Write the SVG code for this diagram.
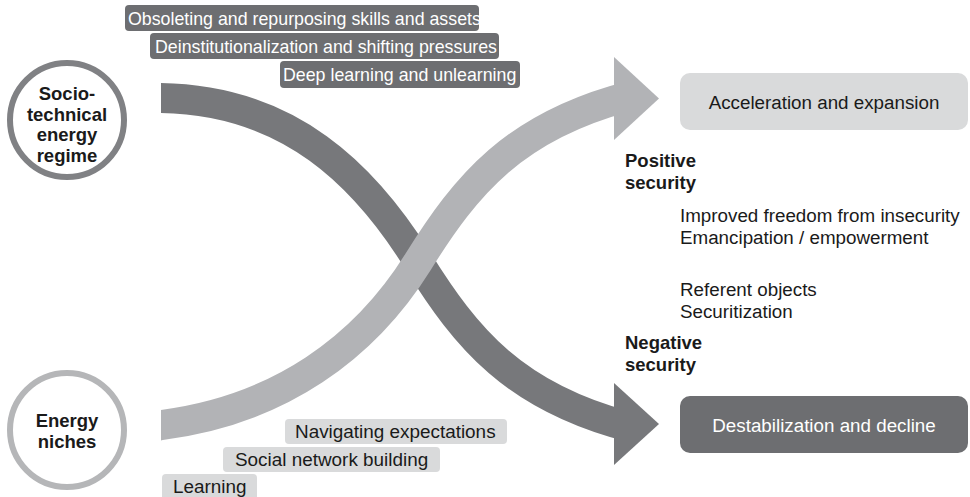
<svg xmlns="http://www.w3.org/2000/svg" width="970" height="497" viewBox="0 0 970 497">
<style>
text{font-family:"Liberation Sans",Arial,sans-serif;fill:#1a1a1a}
.b{font-weight:bold;font-size:18.5px}
.r{font-size:18.8px}
.tl{font-size:17.8px;fill:#fff}
.bl{font-size:18.9px}
.dk{fill:#6d6e71}
.lt{fill:#d9dadb}
.band{fill:none;stroke-width:30;stroke-linecap:butt}
</style>
<defs>
<clipPath id="bc"><rect x="161" y="0" width="470" height="497"/></clipPath>
</defs>
<g id="connectors">
<g clip-path="url(#bc)">
<path class="band" stroke="#77787b" d="M140,98 L161,98 C290,100 365,176 418,261 C466,338 514,397 630,427"/>
<path class="band" stroke="#b2b3b6" d="M140,430 L161,425 C280,410 365,347 418,262 C466,185 514,126 630,96"/>
</g>
<polygon fill="#77787b" points="614,383 659,424 614,465"/>
<polygon fill="#b2b3b6" points="614,57 659,98.5 614,140"/>
</g>
<g id="regime">
<circle cx="67" cy="120" r="57" fill="#fff" stroke="#808184" stroke-width="6"/>
<text class="b" text-anchor="middle"><tspan x="67" y="100">Socio-</tspan><tspan x="67" y="120.5">technical</tspan><tspan x="67" y="141">energy</tspan><tspan x="67" y="161.5">regime</tspan></text>
</g>
<g id="niches">
<circle cx="67" cy="430" r="57" fill="#fff" stroke="#b5b6b8" stroke-width="6"/>
<text class="b" text-anchor="middle"><tspan x="67" y="427">Energy</tspan><tspan x="67" y="448">niches</tspan></text>
</g>
<g id="label-obsoleting">
<rect class="dk" x="125" y="5" width="354" height="26" rx="4"/>
<text class="tl" x="128" y="24.5">Obsoleting and repurposing skills and assets</text>
</g>
<g id="label-deinst">
<rect class="dk" x="150" y="33" width="349" height="26" rx="4"/>
<text class="tl" x="155" y="52.5">Deinstitutionalization and shifting pressures</text>
</g>
<g id="label-deep">
<rect class="dk" x="280" y="61" width="240" height="27" rx="4"/>
<text class="tl" x="283" y="81">Deep learning and unlearning</text>
</g>
<g id="label-nav">
<rect class="lt" x="285" y="419" width="222" height="25" rx="4"/>
<text class="bl" x="295" y="438">Navigating expectations</text>
</g>
<g id="label-social">
<rect class="lt" x="223" y="447" width="217" height="25" rx="4"/>
<text class="bl" x="235" y="466">Social network building</text>
</g>
<g id="label-learning">
<rect class="lt" x="162" y="474" width="95" height="26" rx="4"/>
<text class="bl" x="173" y="493">Learning</text>
</g>
<g id="acceleration">
<rect class="lt" x="680" y="73" width="288" height="57" rx="10"/>
<text class="r" x="824" y="108.5" text-anchor="middle">Acceleration and expansion</text>
</g>
<g id="destabilization">
<rect class="dk" x="680" y="396" width="288" height="57" rx="10"/>
<text class="r" x="824" y="431.5" text-anchor="middle" style="fill:#fff">Destabilization and decline</text>
</g>
<g id="positive">
<text class="b" x="625"><tspan x="625" y="167">Positive</tspan><tspan x="625" y="189">security</tspan></text>
<text class="r" x="680"><tspan x="680" y="222">Improved freedom from insecurity</tspan><tspan x="680" y="243.5">Emancipation / empowerment</tspan></text>
</g>
<g id="negative">
<text class="r" x="680"><tspan x="680" y="296">Referent objects</tspan><tspan x="680" y="318">Securitization</tspan></text>
<text class="b" x="625"><tspan x="625" y="349">Negative</tspan><tspan x="625" y="371">security</tspan></text>
</g>
</svg>
